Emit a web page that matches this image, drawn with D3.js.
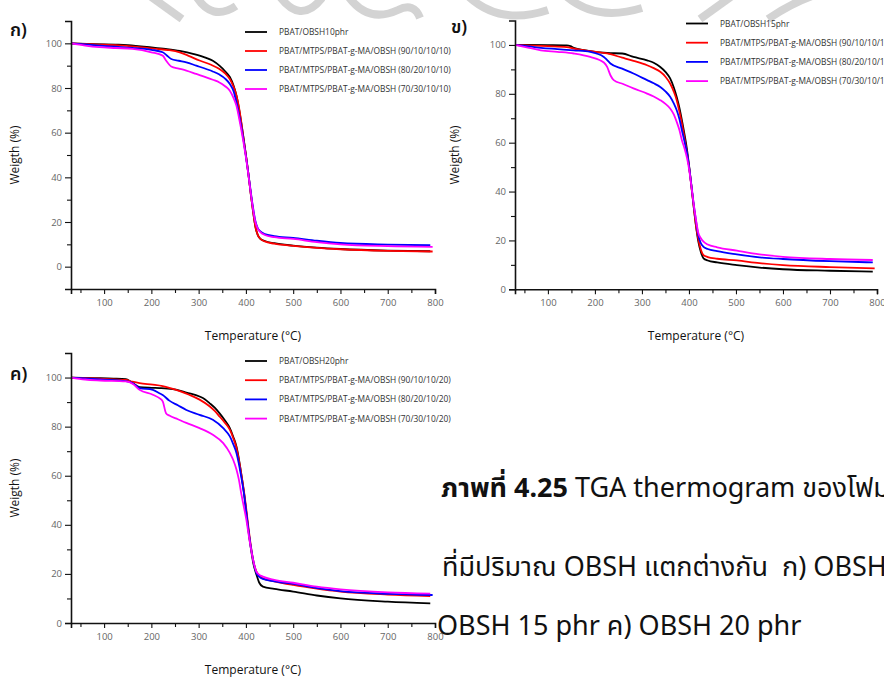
<!DOCTYPE html>
<html>
<head>
<meta charset="utf-8">
<script src="https://cdn.jsdelivr.net/npm/d3@7"></script>
<style>
  html, body { margin: 0; padding: 0; background: #fff; }
  svg { display: block; }
</style>
</head>
<body>
<svg id="fig" width="884" height="677"></svg>
<script>
// ---- data: TGA weight (%) against temperature (°C) ----
const seriesNames10 = ["PBAT/OBSH10phr", "PBAT/MTPS/PBAT-g-MA/OBSH (90/10/10/10)", "PBAT/MTPS/PBAT-g-MA/OBSH (80/20/10/10)", "PBAT/MTPS/PBAT-g-MA/OBSH (70/30/10/10)"];
const seriesNames15 = ["PBAT/OBSH15phr", "PBAT/MTPS/PBAT-g-MA/OBSH (90/10/10/15)", "PBAT/MTPS/PBAT-g-MA/OBSH (80/20/10/15)", "PBAT/MTPS/PBAT-g-MA/OBSH (70/30/10/15)"];
const seriesNames20 = ["PBAT/OBSH20phr", "PBAT/MTPS/PBAT-g-MA/OBSH (90/10/10/20)", "PBAT/MTPS/PBAT-g-MA/OBSH (80/20/10/20)", "PBAT/MTPS/PBAT-g-MA/OBSH (70/30/10/20)"];
const seriesColors = ["#000000", "#ff0000", "#0000ff", "#ff00ff"];

// OBSH 10 phr
const obsh10_neat = [[30,100],[80,99.6],[130,99.4],[150,99.2],[200,98.2],[230,97.5],[260,96.6],[290,95.2],[316,93.5],[330,92.2],[344,90],[356,87.5],[366,84.9],[374,81],[380,76.6],[386,70],[390,64.6],[395,57.5],[400,50],[405,42],[410,33],[415,25],[420,18],[425,14.2],[430,12.6],[440,11.5],[460,10.5],[500,9.4],[550,8.5],[600,7.9],[700,7.2],[790,6.9]];
const obsh10_9010 = [[30,100],[80,99.5],[130,99.1],[170,98.4],[211,97.5],[235,97],[260,96],[280,94.3],[302,92.3],[325,90.5],[344,88.5],[356,86.5],[366,84],[374,80.5],[380,76.6],[386,70.5],[390,65],[395,57.5],[400,50],[405,42],[410,33],[415,25],[420,18],[425,14.2],[430,12.6],[440,11.3],[460,10.3],[500,9.3],[550,8.4],[600,7.8],[700,7.1],[795,6.8]];
const obsh10_8020 = [[30,100],[60,99.5],[90,99],[125,98.5],[160,98],[200,97.1],[224,96],[232,94.7],[242,93],[258,92.2],[274,91.5],[295,90],[316,88.5],[330,87.4],[344,86],[356,84.2],[366,81.8],[374,78.5],[380,73.6],[386,67.5],[390,63],[395,56.5],[400,49.5],[405,42],[410,34],[415,26.5],[420,20.5],[425,17.3],[430,15.9],[440,14.6],[460,13.7],[500,12.9],[550,11.6],[600,10.6],[700,9.9],[790,9.6]];
const obsh10_7030 = [[30,100],[60,99],[90,98.3],[125,97.9],[160,97.5],[200,96],[224,94.5],[231,92.3],[242,89.6],[258,88.7],[274,87.8],[295,86.3],[316,84.8],[330,83.7],[344,82.5],[356,80.8],[366,78.8],[374,75.5],[380,72],[386,66],[390,61.6],[395,55.5],[400,49],[405,41.5],[410,33.5],[415,26],[420,20],[425,17],[430,15.6],[440,14.2],[460,13.2],[500,12.4],[550,11],[600,10],[700,9.2],[795,8.9]];

// OBSH 15 phr
const obsh15_neat = [[30,100],[100,99.9],[140,99.8],[148,99.5],[155,98.8],[180,97.8],[226,96.7],[258,96.5],[282,95.1],[311,93.7],[325,92.7],[339,91],[350,89],[360,86.3],[368,82.5],[374,78.7],[380,74],[385,69.2],[390,64],[396,57],[400,51],[405,42.5],[410,34],[415,26],[420,19.5],[425,15.5],[431,12.7],[440,11.8],[460,11],[502,9.9],[550,8.9],[600,8.2],[700,7.6],[791,7.2]];
const obsh15_9010 = [[30,100],[100,99.5],[140,99.1],[155,98.5],[190,97.5],[226,96.5],[258,94.8],[282,93.5],[311,91.7],[325,90.5],[339,89],[350,87],[360,84.2],[368,80.8],[374,77.4],[380,72.5],[385,67.9],[390,62.5],[396,55.6],[400,50.5],[405,42.5],[410,34],[415,26],[420,20.5],[425,16.5],[431,14],[440,13.2],[460,12.5],[502,11.8],[550,10.7],[600,9.9],[700,9.1],[795,8.6]];
const obsh15_8020 = [[30,100],[60,99.4],[85,98.8],[120,98.3],[155,97.8],[190,97.2],[219,95.1],[226,93.8],[233,92.4],[258,90.3],[282,88.3],[311,85.6],[325,84.3],[339,82.8],[350,81],[360,78.8],[368,76],[374,73.3],[380,69.5],[385,65.1],[390,61],[396,55.6],[400,50.5],[405,43],[410,35],[415,28],[420,22],[425,19],[431,17.4],[440,16.5],[460,15.6],[502,14.3],[550,13.1],[600,12.4],[700,11.5],[791,11]];
const obsh15_7030 = [[30,100],[60,98.8],[85,97.8],[120,97.2],[155,96.5],[190,95.1],[219,92.8],[226,91],[233,87.6],[240,85.6],[260,84],[282,82.2],[311,80.1],[325,78.9],[339,77.4],[350,75.9],[360,74],[368,71.5],[374,68.5],[380,65],[385,61],[390,58],[396,53.6],[400,49.5],[405,42.5],[410,35],[415,28.5],[420,23],[425,21],[431,19.5],[440,18.3],[460,17.2],[502,15.8],[550,14.3],[600,13.3],[700,12.4],[791,12]];

// OBSH 20 phr
const obsh20_neat = [[30,100],[80,99.8],[120,99.6],[146,99.3],[155,98.5],[161,97.7],[175,96.1],[200,95.8],[217,95.7],[245,95.3],[260,94.7],[274,93.9],[302,92.3],[313,91.2],[323,89.6],[334,87.7],[344,85.5],[355,82.7],[366,79.4],[373,76],[380,71.9],[385,67],[390,61],[396,53],[401,44.8],[405,38],[410,31],[416,24],[422,19.9],[428,16.5],[436,14.8],[460,13.9],[500,12.8],[550,11.2],[600,10],[700,8.7],[790,8]];
const obsh20_9010 = [[30,100],[92,99.5],[146,99],[160,98.3],[175,97.7],[203,97.1],[224,96.5],[240,95.7],[260,94.5],[280,93],[302,91],[323,88.3],[334,86.4],[344,84.2],[355,81.7],[366,78.8],[373,75.5],[380,71.3],[385,66.5],[390,61],[396,53.5],[401,46],[405,39.5],[410,32],[416,25],[422,21],[428,19.3],[436,18.2],[460,17],[500,15.5],[550,14],[600,12.8],[700,11.6],[790,11]];
const obsh20_8020 = [[30,100],[92,99.2],[146,98.5],[161,97.7],[175,95.7],[203,95],[217,93.6],[224,92.9],[238,90.6],[256,88.7],[274,86.8],[302,84.8],[330,82.8],[352,79.4],[366,76],[373,73],[380,69.3],[385,65],[390,59.7],[396,52.5],[401,44.8],[405,38.5],[410,31.5],[416,25],[422,20.5],[428,18.9],[436,18],[460,17],[500,15.9],[550,14.2],[600,13],[700,11.9],[795,11.4]];
const obsh20_7030 = [[30,100],[60,99.2],[92,98.8],[146,98.4],[161,97.4],[175,95],[203,93],[217,91.6],[224,90.3],[231,85.5],[238,84.5],[256,83],[274,81.5],[302,79.4],[330,76.7],[352,73.3],[366,69.3],[373,66.5],[380,62.5],[385,58.5],[390,52.9],[396,47],[401,42],[405,37],[410,31],[416,25],[422,21],[428,19.7],[436,18.9],[460,17.6],[500,16.4],[550,14.8],[600,13.7],[700,12.5],[790,12]];

// axis ticks
const xMajorTicks = [100, 200, 300, 400, 500, 600, 700, 800];
const xMinorTicks = [50, 150, 250, 350, 450, 550, 650, 750];
const yMajorTicks = [0, 20, 40, 60, 80, 100];
const yMinorTicks = [10, 30, 50, 70, 90];
const xTitle = "Temperature (°C)";
const yTitle = "Weigth (%)";
const panelTags = ["ก)", "ข)", "ค)"];

const captionBold = "ภาพที่ 4.25";
const captionLine1 = " TGA thermogram ของโฟม";
const captionLine2 = "ที่มีปริมาณ OBSH แตกต่างกัน \u00a0ก) OBSH 10 phr ข)";
const captionLine3 = "OBSH 15 phr ค) OBSH 20 phr";

// ---- drawing ----
const svg = d3.select("#fig");
const labelFont = "'Noto Sans', 'Noto Sans Thai', 'DejaVu Sans', sans-serif";
const smallFont = "'Open Sans', 'Noto Sans', sans-serif";

// faint page seal along the top edge
const seal = svg.append("g").attr("fill", "none").attr("stroke", "#d3d3d3")
  .attr("stroke-width", 8).attr("stroke-linecap", "butt");
[
  "M150,-4 L182,19",
  "M196,-4 Q212,22 236,6",
  "M278,-6 Q300,26 322,-2",
  "M348,-4 Q368,24 398,10 Q414,2 420,18",
  "M468,-4 Q500,26 548,10",
  "M566,-4 Q596,22 642,8",
  "M700,19 L732,-4",
  "M768,19 Q790,4 812,-4"
].forEach(d => seal.append("path").attr("d", d));

const panels = [
  { tag: panelTags[0], names: seriesNames10, data: [obsh10_neat, obsh10_9010, obsh10_8020, obsh10_7030],
    xr: [71, 435], yr: [289, 21], yd: [-10, 110], tagPos: [10, 36], legX: 245, legY: 32, legDy: 19,
    yTitleX: 19, xTitleY: 340 },
  { tag: panelTags[1], names: seriesNames15, data: [obsh15_neat, obsh15_9010, obsh15_8020, obsh15_7030],
    xr: [515, 877], yr: [289.3, 20.5], yd: [0, 110], tagPos: [451, 33], legX: 686, legY: 23.5, legDy: 19.2,
    yTitleX: 459, xTitleY: 340 },
  { tag: panelTags[2], names: seriesNames20, data: [obsh20_neat, obsh20_9010, obsh20_8020, obsh20_7030],
    xr: [71, 435], yr: [623, 353], yd: [0, 110], tagPos: [10, 380], legX: 245, legY: 361, legDy: 19.2,
    yTitleX: 19, xTitleY: 674 }
];

panels.forEach(p => {
  const x = d3.scaleLinear().domain([30, 800]).range(p.xr);
  const y = d3.scaleLinear().domain(p.yd).range(p.yr);
  const g = svg.append("g");

  // curves
  const line = d3.line().x(d => x(d[0])).y(d => y(d[1])).curve(d3.curveMonotoneX);
  p.data.forEach((s, i) => {
    g.append("path").datum(s)
      .attr("d", line)
      .attr("fill", "none")
      .attr("stroke", seriesColors[i])
      .attr("stroke-width", 1.8)
      .attr("stroke-linejoin", "round");
  });

  // x axis
  g.append("g").attr("transform", `translate(0,${p.yr[0]})`)
    .call(d3.axisBottom(x).tickValues(xMajorTicks).tickSize(5).tickPadding(5).tickFormat(d3.format("d")));
  g.append("g").attr("transform", `translate(0,${p.yr[0]})`)
    .call(d3.axisBottom(x).tickValues(xMinorTicks).tickSize(4).tickFormat(""))
    .call(a => a.select(".domain").remove());

  // y axis
  g.append("g").attr("transform", `translate(${p.xr[0]},0)`)
    .call(d3.axisLeft(y).tickValues(yMajorTicks).tickSize(6).tickPadding(3).tickFormat(d3.format("d")));
  g.append("g").attr("transform", `translate(${p.xr[0]},0)`)
    .call(d3.axisLeft(y).tickValues(yMinorTicks).tickSize(4).tickFormat(""))
    .call(a => a.select(".domain").remove());

  g.selectAll(".domain").attr("stroke", "#111").attr("stroke-width", 1.6);
  g.selectAll(".tick line").attr("stroke", "#111").attr("stroke-width", 1.1);
  g.selectAll(".tick text").attr("fill", "#666").style("font-family", smallFont).style("font-size", "9.5px");

  // axis titles
  g.append("text").attr("x", (p.xr[0] + p.xr[1]) / 2).attr("y", p.xTitleY)
    .attr("text-anchor", "middle").style("font-family", smallFont).style("font-size", "12px")
    .attr("fill", "#111").text(xTitle);
  g.append("text")
    .attr("transform", `translate(${p.yTitleX},${(p.yr[0] + p.yr[1]) / 2}) rotate(-90)`)
    .attr("text-anchor", "middle").style("font-family", smallFont).style("font-size", "12px")
    .attr("fill", "#111").text(yTitle);

  // panel tag
  g.append("text").attr("x", p.tagPos[0]).attr("y", p.tagPos[1])
    .style("font-family", labelFont).style("font-size", "18px").style("font-weight", "600")
    .attr("fill", "#111").text(p.tag);

  // legend
  p.names.forEach((n, i) => {
    const ly = p.legY + i * p.legDy;
    g.append("line").attr("x1", p.legX).attr("x2", p.legX + 22).attr("y1", ly).attr("y2", ly)
      .attr("stroke", seriesColors[i]).attr("stroke-width", 1.8);
    g.append("text").attr("x", p.legX + 34).attr("y", ly + 3)
      .style("font-family", smallFont).style("font-size", "8.4px")
      .attr("fill", "#333").text(n);
  });
});

// caption
const cap = svg.append("g").style("font-family", labelFont).style("font-size", "27px").attr("fill", "#111");
const t1 = cap.append("text").attr("x", 441).attr("y", 497);
t1.append("tspan").style("font-weight", "bold").text(captionBold);
t1.append("tspan").text(captionLine1);
cap.append("text").attr("x", 442).attr("y", 576).text(captionLine2);
cap.append("text").attr("x", 437).attr("y", 635).text(captionLine3);
</script>
</body>
</html>
